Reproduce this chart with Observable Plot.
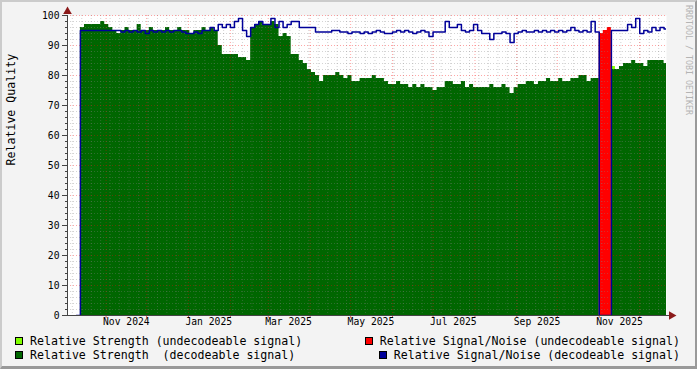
<!DOCTYPE html>
<html><head><meta charset="utf-8">
<script src="https://cdn.jsdelivr.net/npm/d3@7"></script>
<script src="https://cdn.jsdelivr.net/npm/@observablehq/plot@0.6"></script>
<style>
html,body{margin:0;padding:0;background:#F3F3F3;}
#wrap{position:relative;width:697px;height:369px;background:#F3F3F3;overflow:hidden;font-family:"DejaVu Sans Mono",monospace;}
#shade{position:absolute;left:0;top:0;width:697px;height:369px;box-sizing:border-box;border-style:solid;border-width:2px 2px 3px 2px;border-color:#CBCBCB #999999 #999999 #CBCBCB;pointer-events:none;}
#chart{position:absolute;left:0;top:0;}
.legend{position:absolute;font-size:11.6px;white-space:pre;display:flex;flex-direction:column;}
.item{display:flex;align-items:center;height:14px;}
.sw{width:8px;height:8px;border:1px solid #000;box-sizing:border-box;margin-right:7px;}
#wm{position:absolute;left:683px;top:5px;writing-mode:vertical-rl;font-size:8.3px;line-height:11px;color:#B4B4B4;white-space:pre;}
</style></head>
<body><div id="wrap"><div id="chart"></div>
<div class="legend" id="legL" style="left:15px;top:334px;align-items:flex-start"></div>
<div class="legend" id="legR" style="right:17px;top:334px;align-items:flex-end"></div>
<div id="wm">RRDTOOL / TOBI OETIKER</div>
<div id="shade"></div></div>
<script>
// ---- data (one value every 3 days, starting at seriesStart) ----
const seriesStart = new Date(Date.UTC(2024, 9, 10));
const stepDays = 3;

const strengthDecodeable = [0,
 96,97,97,97,97,98,97,96,95,94,
 95,96,95,95,97,95,95,96,95,95,
 95,96,95,95,96,95,95,94,95,95,
 96,95,96,95,90,87,87,87,87,86,
 86,85,96,97,98,97,97,98,97,93,
 94,93,87,87,85,84,82,81,80,78,
 80,80,80,81,80,79,80,78,78,79,
 79,79,80,79,79,78,77,77,78,77,
 77,76,77,76,77,76,76,75,76,76,
 78,78,77,77,78,76,77,76,76,76,
 76,77,76,76,77,76,74,76,77,77,
 78,78,77,78,78,79,78,78,79,78,
 78,79,79,80,80,78,79,79,
 0,0,0,
 82,82,83,84,84,85,84,84,83,
 85,85,85,85,84];

const snDecodeable = [0,
 95,95,95,95,95,95,95,95,95,95,
 94.5,95,94.5,95,94.5,95,94,95,94.5,95,
 94.5,95,94.5,95,95,94.5,94,94,94.5,94,
 95,95,96,95,97,96,97,96,98,99,
 95,93,96,97,98,97,97,99,96,98,
 96,97,98,98,96,96,96,96,94.5,94.5,
 94.5,94.5,95,95,94.5,94.5,94,94.5,94.5,94,
 94.5,94,94.5,95,94.5,94,94,94.5,95,94.5,
 95,94.5,94,94.5,95,94.5,93,94.5,94.5,94.5,
 98,96,96,97,95,94.5,95,97,95,94,
 94,92,94,94,94.5,94,91,94,94.5,95,
 94.5,94.5,95,94.5,95,94.5,95,94.5,95,94.5,
 95,96,95,94.5,95,94.5,98,94.5,
 0,0,0,
 95,95,95,95,97,96,99,94,95,
 94.5,96,95,96,95.5];

const snUndecodeable = [...Array(129).fill(null), 94, 95, 96, ...Array(14).fill(null)];
const strengthUndecodeable = [...Array(132).fill(null), 83, ...Array(13).fill(null)];

const yMajorTicks = [0,10,20,30,40,50,60,70,80,90,100];
const yMinorTicks = [2,4,6,8,12,14,16,18,22,24,26,28,32,34,36,38,42,44,46,48,52,54,56,58,62,64,66,68,72,74,76,78,82,84,86,88,92,94,96,98];
const xTickLabels = ["Nov 2024","Jan 2025","Mar 2025","May 2025","Jul 2025","Sep 2025","Nov 2025"];
const xTickDates = ["2024-11-16","2025-01-16","2025-03-16","2025-05-16","2025-07-16","2025-09-16","2025-11-16"];

// ---- layout ----
const xStart = new Date("2024-10-03T10:30:00Z");
const xEnd = new Date("2025-12-20T19:00:00Z");
const monthStarts = d3.utcMonth.range(new Date("2024-10-01"), new Date("2026-01-01"));
const weekStarts = d3.utcMonday.range(xStart, xEnd);
const xTicks = xTickDates.map((d, i) => ({d: new Date(d), label: xTickLabels[i]}));

const dateAt = i => d3.utcDay.offset(seriesStart, stepDays * i);
function steps(values) {
  const rows = []; let run = 0;
  values.forEach((v, i) => {
    if (v == null) { run++; return; }
    rows.push({t: dateAt(i), v, run});
    if (i === values.length - 1 || values[i + 1] == null) rows.push({t: dateAt(i + 1), v, run});
  });
  return rows;
}
const stepOpts = {x: "t", y: "v", z: "run", curve: "step-after", clip: true};

const chart = Plot.plot({
  width: 697, height: 332,
  marginLeft: 67, marginRight: 31, marginTop: 15, marginBottom: 17,
  x: {type: "utc", domain: [xStart, xEnd], axis: null},
  y: {domain: [0, 100], axis: null},
  style: {fontFamily: "DejaVu Sans Mono", fontSize: "9.7px", background: "transparent", color: "#000", overflow: "visible"},
  marks: [
    Plot.frame({fill: "white", stroke: null}),
    Plot.areaY(steps(strengthUndecodeable), {...stepOpts, fill: "#80FF00"}),
    Plot.areaY(steps(strengthDecodeable), {...stepOpts, fill: "#006600"}),
    Plot.areaY(steps(snUndecodeable), {...stepOpts, fill: "#FF0000"}),
    Plot.gridX(weekStarts, {stroke: "#808080", strokeOpacity: 0.35, strokeDasharray: "1,2"}),
    Plot.gridY(yMinorTicks, {stroke: "#808080", strokeOpacity: 0.35, strokeDasharray: "1,2"}),
    Plot.gridX(monthStarts.filter(d => d > xStart && d < xEnd), {stroke: "#FF0000", strokeOpacity: 0.35, strokeDasharray: "1,2"}),
    Plot.gridY(yMajorTicks.slice(1), {stroke: "#FF0000", strokeOpacity: 0.35, strokeDasharray: "1,2"}),
    Plot.lineY(steps(snDecodeable), {...stepOpts, stroke: "#000099", strokeWidth: 1.5}),
    Plot.axisY(yMajorTicks, {tickSize: 5, tickPadding: 3, stroke: "#444", label: null}),
    Plot.axisY(yMinorTicks, {tickSize: 2, tickFormat: () => "", stroke: "#444", label: null}),
    Plot.axisX(monthStarts.filter(d => d > xStart && d < xEnd), {tickSize: 3, tickFormat: () => "", stroke: "#E06060", label: null}),
    Plot.text(xTicks, {x: "d", text: "label", frameAnchor: "bottom", dy: 9.5, fill: "#000"}),
    Plot.frame({anchor: "left", stroke: "#444"}),
    Plot.frame({anchor: "bottom", stroke: "#444"}),
    Plot.ruleY([0], {insetLeft: -5, insetRight: -4, stroke: "#444"}),
    Plot.dot([0], {frameAnchor: "top-left", symbol: "triangle", r: 3.2, fill: "#8B1A1A", stroke: null, dy: -4}),
    Plot.dot([0], {frameAnchor: "bottom-right", symbol: "triangle", r: 3.2, fill: "#8B1A1A", stroke: null, dx: 5, rotate: 90}),
    Plot.text(["Relative Quality"], {frameAnchor: "left", rotate: -90, dx: -56, fontSize: 11.6, fill: "#000"})
  ]
});
document.getElementById("chart").appendChild(chart);

const legendLeft = [["#80FF00", "Relative Strength (undecodeable signal)"], ["#006600", "Relative Strength  (decodeable signal)"]];
const legendRight = [["#FF0000", "Relative Signal/Noise (undecodeable signal)"], ["#000099", "Relative Signal/Noise (decodeable signal)"]];
function fill(id, items) {
  const el = document.getElementById(id);
  for (const [c, t] of items) {
    const it = document.createElement("div"); it.className = "item";
    const sw = document.createElement("span"); sw.className = "sw"; sw.style.background = c;
    const tx = document.createElement("span"); tx.textContent = t;
    it.appendChild(sw); it.appendChild(tx); el.appendChild(it);
  }
}
fill("legL", legendLeft); fill("legR", legendRight);
</script>
</body></html>
